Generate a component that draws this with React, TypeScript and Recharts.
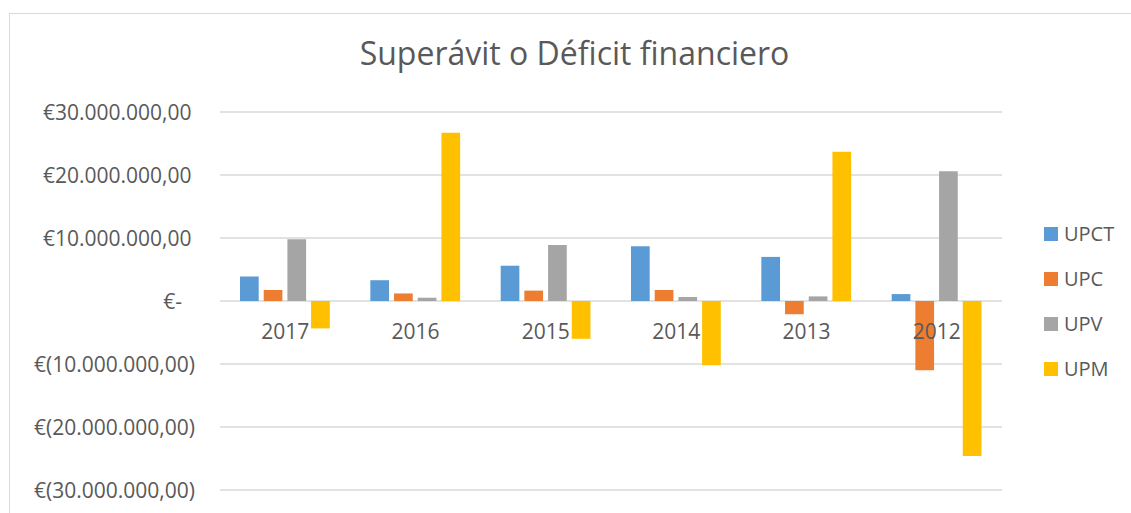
import React from "react";
import { BarChart, Bar, XAxis, YAxis, CartesianGrid, Legend } from "recharts";

const years = ["2017", "2016", "2015", "2014", "2013", "2012"];
const seriesNames = ["UPCT", "UPC", "UPV", "UPM"];
const upct = [3900000, 3300000, 5600000, 8700000, 7000000, 1100000];
const upc = [1750000, 1200000, 1650000, 1750000, -2100000, -11000000];
const upv = [9800000, 520000, 8900000, 630000, 730000, 20600000];
const upm = [-4350000, 26700000, -6000000, -10200000, 23700000, -24600000];
const yTicks = [30000000, 20000000, 10000000, 0, -10000000, -20000000, -30000000];

const data = years.map((year, i) => ({
  year,
  UPCT: upct[i],
  UPC: upc[i],
  UPV: upv[i],
  UPM: upm[i],
}));

const W = 1131;
const H = 513;
const M = { top: 112, right: 129, bottom: 22, left: 0 };
const X_AXIS_H = 1;
const ZERO_Y = M.top + (H - M.top - M.bottom - X_AXIS_H) / 2;
const TEXT = "#595959";
const FONT = "'Open Sans', sans-serif";

const group = (n: number) => String(n).replace(/\B(?=(\d{3})+(?!\d))/g, ".");

function formatEuro(v: number) {
  if (v === 0) return "€-";
  if (v > 0) return `€${group(v)},00`;
  return `€(${group(-v)},00)`;
}

function YTick(props: any) {
  const { x, y, payload } = props;
  const v = payload.value;
  const dx = v === 0 ? -13 : v > 0 ? -3.5 : 0;
  return (
    <text x={x + dx} y={y} dy="0.36em" textAnchor="end" fill={TEXT} fontSize={21} fontFamily={FONT}>
      {formatEuro(v)}
    </text>
  );
}

function XTick(props: any) {
  const { x, payload } = props;
  return (
    <text x={x} y={ZERO_Y + 38} textAnchor="middle" fill={TEXT} fontSize={21} fontFamily={FONT}>
      {payload.value}
    </text>
  );
}

function LegendBox(props: any) {
  const items = [...(props.payload || [])].sort(
    (a: any, b: any) => seriesNames.indexOf(a.value) - seriesNames.indexOf(b.value)
  );
  return (
    <div style={{ fontFamily: FONT, fontSize: 20, color: TEXT }}>
      {items.map((e: any) => (
        <div key={e.value} style={{ display: "flex", alignItems: "center", height: 45 }}>
          <span style={{ display: "inline-block", width: 14, height: 14, background: e.color, marginRight: 6 }} />
          <span>{e.value}</span>
        </div>
      ))}
    </div>
  );
}

export default function App() {
  return (
    <div style={{ position: "fixed", left: 0, top: 0, width: W, height: H, background: "#fff", overflow: "hidden" }}>
      <div
        style={{
          position: "absolute",
          left: 9,
          top: 13,
          width: 1160,
          height: 540,
          border: "1px solid #d9d9d9",
          boxSizing: "border-box",
        }}
      />
      <div
        style={{
          position: "absolute",
          left: 9,
          width: 1131,
          top: 37,
          lineHeight: "32px",
          fontSize: 32,
          textAlign: "center",
          color: TEXT,
          fontFamily: FONT,
        }}
      >
        Superávit o Déficit financiero
      </div>
      <div style={{ position: "absolute", left: 0, top: 0 }}>
        <BarChart width={W} height={H} data={data} margin={M} barSize={18.7} barGap={5}>
          <CartesianGrid horizontal vertical={false} stroke="#d9d9d9" strokeWidth={1.4} />
          <XAxis
            dataKey="year"
            axisLine={false}
            tickLine={false}
            height={X_AXIS_H}
            tick={<XTick />}
            interval={0}
          />
          <YAxis
            width={220}
            domain={[-30000000, 30000000]}
            ticks={yTicks}
            interval={0}
            axisLine={false}
            tickLine={false}
            tickSize={0}
            tickMargin={25}
            tick={<YTick />}
          />
          <Legend
            layout="vertical"
            align="center"
            verticalAlign="middle"
            wrapperStyle={{ left: 1044, top: 211, width: 90 }}
            content={<LegendBox />}
          />
          <Bar dataKey="UPCT" name="UPCT" fill="#5B9BD5" isAnimationActive={false} />
          <Bar dataKey="UPC" name="UPC" fill="#ED7D31" isAnimationActive={false} />
          <Bar dataKey="UPV" name="UPV" fill="#A5A5A5" isAnimationActive={false} />
          <Bar dataKey="UPM" name="UPM" fill="#FFC000" isAnimationActive={false} />
        </BarChart>
      </div>
    </div>
  );
}
